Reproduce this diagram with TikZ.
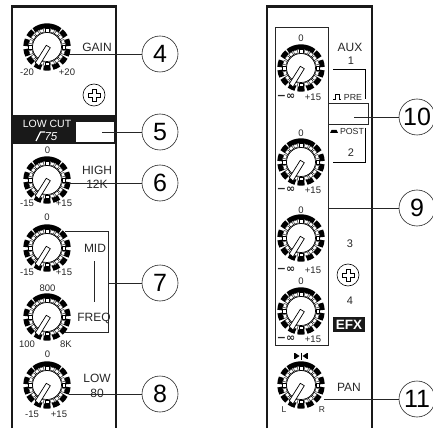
\documentclass[tikz,border=0pt]{standalone}
\usepackage{fontspec}
\setmainfont{Liberation Sans}
\newfontfamily\infinityfont{DejaVu Sans Bold}
\begin{document}
\begin{tikzpicture}[x=1pt,y=-1pt,
panel/.style={line width=2.6pt,draw=black!90},
thinline/.style={line width=0.7pt,draw=black!85},
num/.style={circle,draw=black!85,line width=0.6pt,minimum size=36pt,inner sep=0pt,font=\fontsize{25}{25}\selectfont},
legend/.style={font=\fontsize{12}{12}\selectfont,inner sep=0pt,text=black!85},
scale mark/.style={font=\fontsize{9.5}{10}\selectfont,inner sep=0pt,text=black!85},
pics/knob/.style={code={
    \foreach \a in {-39,-12,15,39,65,90,115,141,165,192,219}
        \draw[line width=5pt] (\a-9.5:21.2) arc[start angle=\a-9.5,end angle=\a+9.5,radius=21.2];
    \draw[line width=5pt] (232:21.2) arc[start angle=232,end angle=308,radius=21.2];
    \foreach \a in {0,18,...,342}
        \draw[fill=white,line width=0.4pt,rotate=-\a] (15.2,-1.9) rectangle (18.4,1.9);
    \draw[fill=white,line width=0.7pt] circle[radius=14.5];
    \draw[fill=white,line width=0.7pt] (-0.7,-1.7) -- (3.3,0.7) -- (-8,19) -- (-11.7,15.7) -- cycle;
}},
pics/screw/.style={code={
    \draw[line width=0.6pt] circle[radius=11];
    \draw[line width=0.6pt,fill=white] (-2,-6) -- (2,-6) -- (2,-2) -- (6,-2) -- (6,2) -- (2,2) -- (2,6) -- (-2,6) -- (-2,2) -- (-6,2) -- (-6,-2) -- (-2,-2) -- cycle;
}}]
\useasboundingbox (0,0) rectangle (433,430);

\draw[panel] (12,428) -- (12,6.5) -- (116,6.5) -- (116,428);
\draw[panel] (267,428) -- (267,6.5) -- (372,6.5) -- (372,428);
\draw[thinline] (275,27) rectangle (328,345);

\pic at (47,47) {knob};
\pic at (47,180) {knob};
\pic at (47,248) {knob};
\pic at (47,317) {knob};
\pic at (47,385) {knob};
\pic at (301,68) {knob};
\pic at (301,162) {knob};
\pic at (301,238) {knob};
\pic at (301,311) {knob};
\pic at (301,385) {knob};
\pic at (94,95) {screw};
\pic at (348,275) {screw};

\fill[black!90] (13,115) rectangle (116,144);
\fill[white] (76,122) rectangle (114,142);
\draw[white,line width=1.2pt] (36,141) -- (40.5,132) -- (45,132);
\node[scale mark,text=white,font=\fontsize{10.5}{11}\selectfont] (lowcut) at (47,124) {LOW CUT};
\node[scale mark,text=white,font=\fontsize{11.5}{12}\selectfont\itshape] (seventyfive) at (51,137) {75};
\fill[black!90] (333,317) rectangle (365,332);
\node[legend,text=white,font=\fontsize{13.5}{14}\selectfont\bfseries] (efx) at (349,325) {EFX};

\node[num] (num4) at (160,54) {4};
\node[num] (num5) at (160,132) {5};
\node[num] (num6) at (160,183) {6};
\node[num] (num7) at (160,283) {7};
\node[num] (num8) at (160,394) {8};
\node[num] (num10) at (417,117) {10};
\node[num] (num9) at (417,208) {9};
\node[num] (num11) at (417,399) {11};

\node[legend] (gain) at (97,47.5) {GAIN};
\node[legend] (high) at (97,170) {HIGH};
\node[legend] (twelvek) at (97,184) {12K};
\node[legend] (mid) at (95,248) {MID};
\node[legend] (freq) at (94,318) {FREQ};
\node[legend] (low) at (97,378) {LOW};
\node[legend] (eighty) at (97,393) {80};
\node[legend] (aux) at (350,47) {AUX};
\node[legend,font=\fontsize{11}{11}\selectfont] (auxone) at (351,61) {1};
\node[legend,font=\fontsize{11}{11}\selectfont] (auxtwo) at (351,153) {2};
\node[legend,font=\fontsize{11}{11}\selectfont] (auxthree) at (350,244) {3};
\node[legend,font=\fontsize{11}{11}\selectfont] (auxfour) at (350,301) {4};
\node[legend] (pan) at (349,387) {PAN};
\node[scale mark,font=\fontsize{8.8}{9}\selectfont] (pre) at (353,97) {PRE};
\node[scale mark,font=\fontsize{8.8}{9}\selectfont] (post) at (352,131) {POST};

\node[scale mark] at (27,72) {-20};
\node[scale mark] at (67,72) {+20};
\node[scale mark] at (47.5,150) {0};
\node[scale mark] at (27,203) {-15};
\node[scale mark] at (64,203) {+15};
\node[scale mark] at (47,217) {0};
\node[scale mark] at (27,272.5) {-15};
\node[scale mark] at (64,272.5) {+15};
\node[scale mark] at (47.5,288) {800};
\node[scale mark] at (27,344) {100};
\node[scale mark] at (66,344) {8K};
\node[scale mark] at (47.5,354) {0};
\node[scale mark] at (32,414) {-15};
\node[scale mark] at (59,414) {+15};
\foreach \ya/\yb in {38/97,133/190,210/270,281/339}{
    \node[scale mark] at (301,\ya) {0};
    \node[scale mark,font=\fontsize{11}{11}\infinityfont] at (286,\yb) {−∞};
    \node[scale mark] at (313,\yb) {+15};
}
\node[scale mark,font=\fontsize{8.5}{9}\selectfont] at (284,410) {L};
\node[scale mark,font=\fontsize{8.5}{9}\selectfont] at (322,410) {R};

\draw[line width=0.8pt] (333,99) -- (335,99) -- (335,94.5) -- (339,94.5) -- (339,99) -- (341,99);
\fill (330,133) -- (331.5,130) -- (336.5,130) -- (338,133) -- cycle;
\fill (295,353) -- (299.5,356) -- (295,359) -- cycle;
\fill (307,353) -- (302.5,356) -- (307,359) -- cycle;
\draw[line width=0.8pt] (301,352.5) -- (301,359.5);
\draw[line width=0.8pt] (294.5,353) -- (294.5,359);
\draw[line width=0.8pt] (307.5,353) -- (307.5,359);

\coordinate (gainend) at (69,54);
\coordinate (lowcutend) at (102,132);
\coordinate (highend) at (69,183);
\coordinate (midtop) at (65,231);
\coordinate (midcorner) at (108,231);
\coordinate (freqbot) at (65,332);
\coordinate (freqcorner) at (108,332);
\coordinate (midout) at (108,283);
\coordinate (midbar) at (94,261);
\coordinate (freqbar) at (94,302);
\coordinate (lowend) at (69,394);
\coordinate (preend) at (354,117);
\coordinate (boxout) at (328,208);
\coordinate (panend) at (324,399);

\draw[thinline] (gainend) -- (num4);
\draw[thinline] (lowcutend) -- (num5);
\draw[thinline] (highend) -- (num6);
\draw[thinline] (midtop) -- (midcorner) -- (freqcorner) -- (freqbot);
\draw[thinline] (midout) -- (num7);
\draw[thinline] (midbar) -- (freqbar);
\draw[thinline] (lowend) -- (num8);
\draw[thinline] (preend) -- (num10);
\draw[thinline] (boxout) -- (num9);
\draw[thinline] (panend) -- (num11);

\draw[thinline] (328,103) rectangle (368,124);
\draw[line width=0.9pt] (333,69) -- (365,69) -- (365,99);
\draw[line width=0.9pt] (365,128) -- (365,162) -- (333,162);
\end{tikzpicture}
\end{document}
